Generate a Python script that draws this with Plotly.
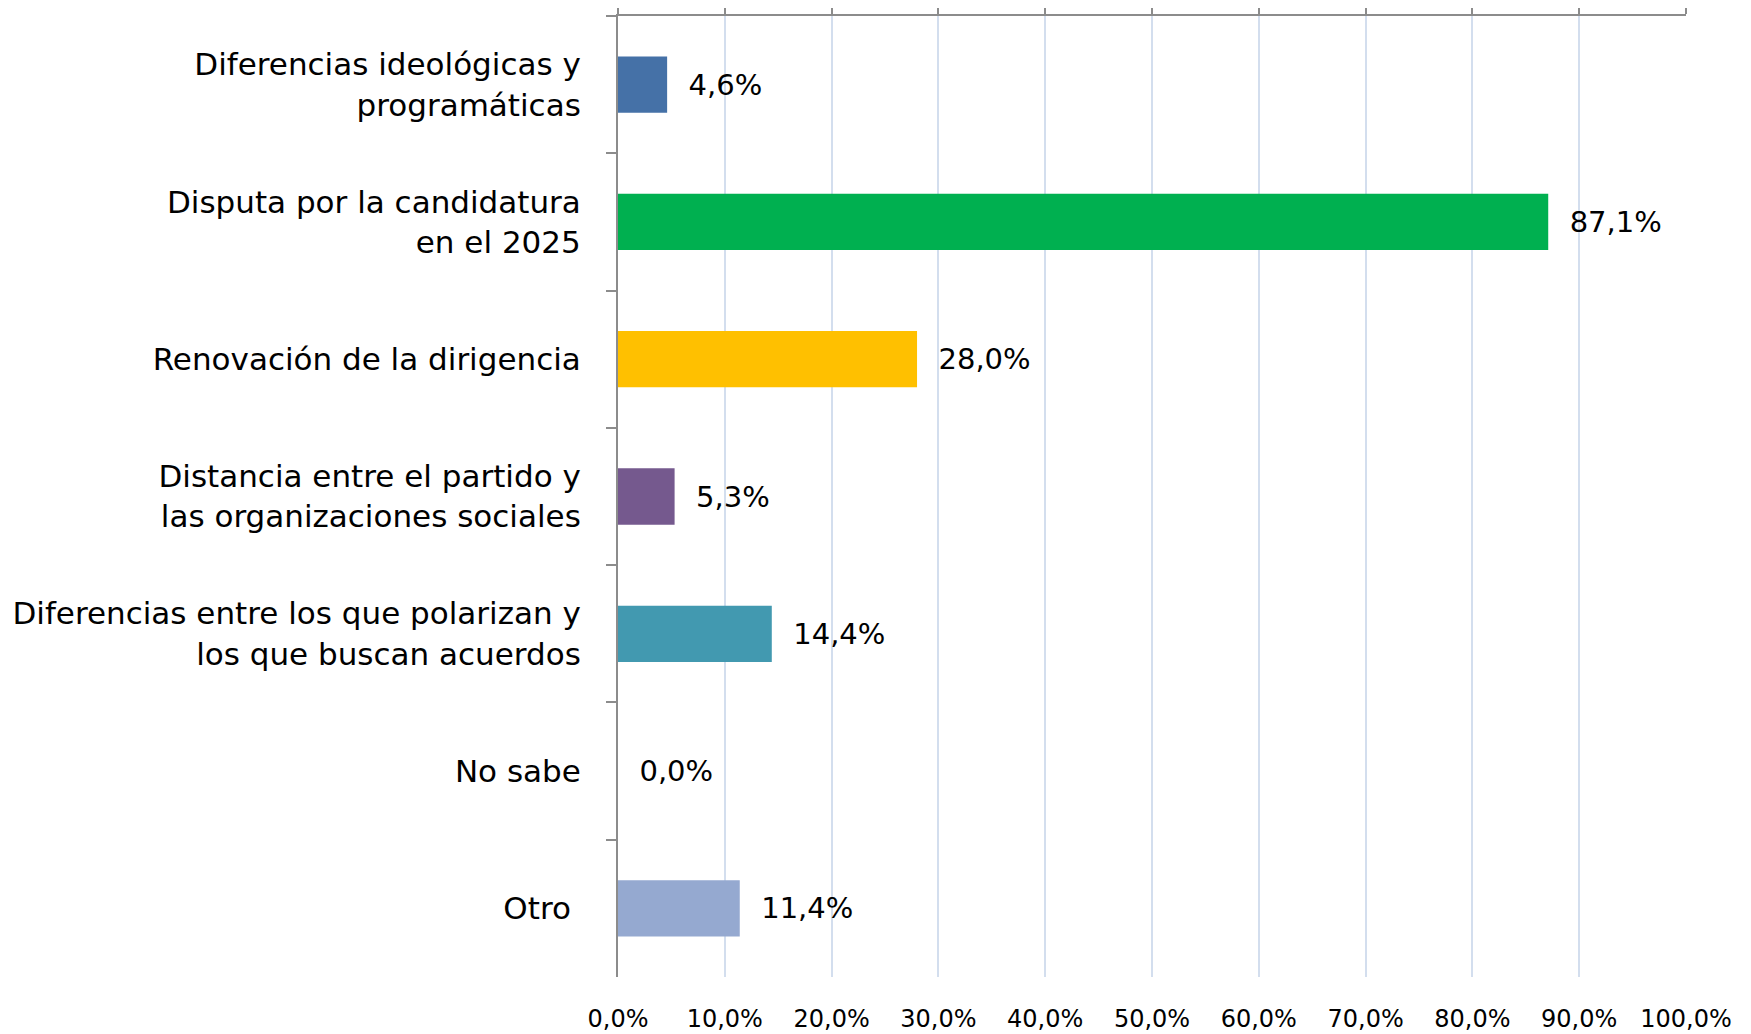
import plotly.graph_objects as go

# categories (top to bottom) and their shares in percent
categorias = [
    "Diferencias ideológicas y<br>programáticas",
    "Disputa por la candidatura<br>en el 2025",
    "Renovación de la dirigencia",
    "Distancia entre el partido y<br>las organizaciones sociales",
    "Diferencias entre los que polarizan y<br>los que buscan acuerdos",
    "No sabe",
    "Otro\u00a0",
]
valores = [4.6, 87.1, 28.0, 5.3, 14.4, 0.0, 11.4]
colores = ["#4571a7", "#00b050", "#ffc000", "#75598e", "#4299b0", "#95a9d0", "#95a9d0"]

x_ticks = [0, 10, 20, 30, 40, 50, 60, 70, 80, 90, 100]
x_tick_labels = ["0,0%", "10,0%", "20,0%", "30,0%", "40,0%", "50,0%",
                 "60,0%", "70,0%", "80,0%", "90,0%", "100,0%"]

eje = "#8c8c8c"
grilla = "#d3deee"
fuente = "DejaVu Sans, Verdana, sans-serif"

fig = go.Figure()
fig.add_trace(go.Bar(
    x=valores,
    y=categorias,
    orientation="h",
    width=0.41,
    marker=dict(color=colores, line=dict(width=0)),
    texttemplate="\u00a0\u00a0%{x:.1f}%",
    textposition="outside",
    constraintext="none",
    cliponaxis=False,
    textfont=dict(family=fuente, size=29, color="black"),
    hoverinfo="skip",
))
# invisible trace so the top axis is drawn
fig.add_trace(go.Scatter(x=[0, 100], y=[categorias[0], categorias[0]], xaxis="x2",
                         mode="markers", marker=dict(opacity=0), hoverinfo="skip",
                         showlegend=False))

# the page body adds an 8px margin, so the figure is a bit smaller than the window
fig.update_layout(
    width=1735, height=1026,
    margin=dict(l=610, r=57, t=8, b=57),
    plot_bgcolor="white", paper_bgcolor="white",
    separators=",.",
    showlegend=False,
    font=dict(family=fuente, color="black"),
    xaxis=dict(
        range=[0, 100], tickvals=x_ticks, ticktext=x_tick_labels,
        showgrid=True, gridcolor=grilla, gridwidth=1.5, zeroline=False,
        showline=False, ticks="", ticklabelstandoff=25, automargin=False,
        tickfont=dict(family=fuente, size=24, color="black"),
    ),
    xaxis2=dict(
        range=[0, 100], tickvals=x_ticks, overlaying="x", side="top",
        showline=True, linecolor=eje, linewidth=2, ticks="outside", ticklen=9,
        tickcolor=eje, tickwidth=2, showticklabels=False, showgrid=False,
        zeroline=False, automargin=False,
    ),
    yaxis=dict(
        type="category", autorange="reversed", showgrid=False,
        showline=True, linecolor=eje, linewidth=2, ticks="outside",
        tickson="boundaries", ticklen=10, tickcolor=eje, tickwidth=2,
        ticklabelstandoff=29, automargin=False,
        tickfont=dict(family=fuente, size=31, color="black"),
    ),
)

fig.write_html("out.html")
